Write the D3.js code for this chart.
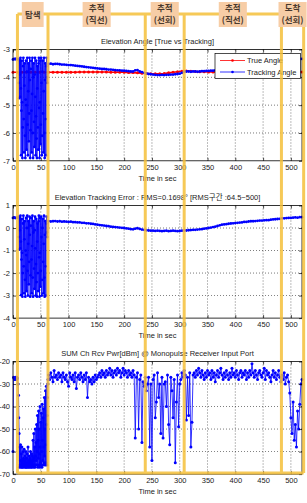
<!DOCTYPE html>
<html>
<head>
<meta charset="utf-8">
<script src="https://cdn.jsdelivr.net/npm/d3@7"></script>
<style>
  body { margin: 0; background: #fff; }
  text { font-family: "Liberation Sans", Arial, "Noto Sans CJK KR", sans-serif; }
</style>
</head>
<body>
<div id="chart"></div>
<script>
const width = 307, height = 503;

// shared time axis (sec)
const xDomain = [0, 520];
const xTicks = [0, 50, 100, 150, 200, 250, 300, 350, 400, 450, 500];

// phase boundaries (sec) and names of the yellow overlay
const phaseEdges = [8, 63, 238, 308, 483, 523];
const phaseNames = [["탐색"], ["추적", "(직선)"], ["추적", "(선회)"], ["추적", "(직선)"], ["도착", "(선회)"]];

// ---- panel 1 : elevation angle
const angleTicks = [-3, -4, -5, -6, -7];
const trueAngleStep = 8; // from t=0
const trueAngle = [-3.82, -3.82, -3.82, -3.82, -3.82, -3.82, -3.82, -3.82, -3.82, -3.82,
  -3.82, -3.82, -3.82, -3.82, -3.82, -3.81, -3.81, -3.81, -3.81, -3.81,
  -3.81, -3.81, -3.82, -3.82, -3.82, -3.82, -3.83, -3.83, -3.84, -3.85,
  -3.86, -3.87, -3.87, -3.87, -3.86, -3.84, -3.82, -3.80, -3.78, -3.77,
  -3.78, -3.79, -3.80, -3.80, -3.81, -3.81, -3.81, -3.81, -3.82, -3.82,
  -3.82, -3.82, -3.82, -3.82, -3.82, -3.82, -3.82, -3.82, -3.82, -3.82,
  -3.82, -3.82, -3.82, -3.81, -3.81, -3.81];

// tracking angle: before search (t=0, step 2), search (t=10, step 0.58), tracking (t=64, step 4)
const trackPre = [-3.36, -3.34, -3.35, -3.33, -3.35];
const trackSearch = [-3.35, -4.2, -4.75, -3.4, -3.9, -4.7, -3.3, -4.4,
  -6.8, -5.2, -3.4, -4.9, -6.9, -5.8, -3.6, -3.3, -5.5, -6.7,
  -4.3, -3.5, -6.1, -6.9, -4.8, -3.4, -5.0, -6.6, -3.8, -3.3,
  -5.7, -6.8, -4.5, -3.5, -6.3, -5.3, -3.3, -4.1, -6.9, -5.9,
  -3.7, -3.4, -5.2, -6.7, -4.6, -3.3, -6.0, -6.9, -4.0, -3.5,
  -5.6, -6.5, -3.9, -3.3, -4.7, -6.8, -5.4, -3.4, -6.2, -6.9,
  -4.4, -3.6, -5.8, -6.6, -3.5, -3.3, -5.1, -6.9, -4.9, -3.4,
  -6.4, -5.7, -3.3, -4.2, -6.8, -6.1, -3.8, -3.4, -5.3, -6.7,
  -4.5, -3.3, -6.0, -6.9, -4.1, -3.5, -5.5, -6.8, -3.6, -3.3,
  -4.0, -4.2];
const trackAngle = [-3.52, -3.51, -3.53, -3.52, -3.52, -3.53, -3.54, -3.54, -3.55, -3.56,
  -3.56, -3.57, -3.58, -3.59, -3.60, -3.61, -3.62, -3.63, -3.64, -3.65,
  -3.66, -3.67, -3.68, -3.69, -3.70, -3.70, -3.71, -3.72, -3.72, -3.73,
  -3.74, -3.75, -3.75, -3.76, -3.76, -3.77, -3.78, -3.79, -3.79, -3.75,
  -3.74, -3.79, -3.81, -3.84, -3.86, -3.88, -3.89, -3.90, -3.91, -3.92,
  -3.92, -3.91, -3.92, -3.91, -3.91, -3.90, -3.90, -3.89, -3.88, -3.87,
  -3.84, -3.80, -3.79, -3.79, -3.80, -3.79, -3.79, -3.80, -3.79, -3.78,
  -3.78, -3.77, -3.77, -3.76, -3.76, -3.75, -3.73, -3.70, -3.67, -3.65,
  -3.64, -3.62, -3.61, -3.60, -3.59, -3.58, -3.57, -3.56, -3.55, -3.54,
  -3.53, -3.52, -3.51, -3.51, -3.50, -3.49, -3.48, -3.48, -3.47, -3.46,
  -3.45, -3.44, -3.43, -3.42, -3.41, -3.40, -3.39, -3.38, -3.37, -3.37,
  -3.36, -3.35, -3.36, -3.34, -3.34];

// ---- panel 2 : tracking error
const errTicks = [1, 0, -1, -2, -3, -4];
const errPre = [0.45, 0.47, 0.44, 0.46, 0.45];
const errSearch = [0.5, -0.4, -0.95, 0.45, -0.1, -0.9, 0.55, -0.6,
  -2.98, -1.4, 0.4, -1.1, -3.05, -2.0, 0.2, 0.55, -1.7, -2.9,
  -0.5, 0.3, -2.3, -3.05, -1.0, 0.45, -1.2, -2.8, 0.0, 0.55,
  -1.9, -3.0, -0.7, 0.3, -2.5, -1.5, 0.5, -0.3, -3.05, -2.1,
  0.1, 0.45, -1.4, -2.9, -0.8, 0.55, -2.2, -3.05, -0.2, 0.3,
  -1.8, -2.7, -0.1, 0.5, -0.9, -3.0, -1.6, 0.4, -2.4, -3.05,
  -0.6, 0.2, -2.0, -2.8, 0.3, 0.55, -1.3, -3.05, -1.1, 0.45,
  -2.6, -1.9, 0.5, -0.4, -3.0, -2.3, 0.0, 0.4, -1.5, -2.9,
  -0.7, 0.55, -2.2, -3.05, -0.3, 0.3, -1.7, -3.0, 0.2, 0.5,
  -0.2, -0.4];
const errTrack = [0.31, 0.29, 0.30, 0.31, 0.29, 0.30, 0.28, 0.29, 0.28, 0.27,
  0.28, 0.26, 0.26, 0.25, 0.25, 0.23, 0.23, 0.21, 0.21, 0.19,
  0.18, 0.16, 0.15, 0.13, 0.12, 0.11, 0.09, 0.08, 0.06, 0.05,
  0.04, 0.03, 0.02, 0.01, 0.00, -0.02, -0.03, -0.05, -0.06, -0.03,
  -0.01, -0.04, -0.07, -0.08, -0.10, -0.11, -0.12, -0.12, -0.13, -0.12,
  -0.13, -0.14, -0.13, -0.12, -0.14, -0.13, -0.12, -0.13, -0.14, -0.13,
  -0.12, -0.11, -0.11, -0.10, -0.09, -0.08, -0.08, -0.07, -0.06, -0.05,
  -0.03, -0.02, 0.00, 0.02, 0.04, 0.06, 0.09, 0.12, 0.15, 0.16,
  0.17, 0.19, 0.20, 0.21, 0.22, 0.23, 0.24, 0.25, 0.27, 0.27,
  0.29, 0.30, 0.30, 0.31, 0.32, 0.33, 0.33, 0.34, 0.35, 0.35,
  0.37, 0.38, 0.39, 0.40, 0.41, 0.43, 0.43, 0.44, 0.45, 0.45,
  0.46, 0.47, 0.46, 0.48, 0.48];

// ---- panel 3 : received power (t=0 step 1, t=10 step 0.5, t=64 step 2)
const pwrTicks = [-20, -30, -40, -50, -60, -70];
const pwrPre = [-60, -27, -27.5, -28, -27, -27.5, -28, -27, -27.5, -30];
const pwrSearch = [-35, -45, -52, -67, -58,
  -66, -64, -57, -66, -67, -61, -65, -58, -67, -64, -66, -60, -67, -63, -66, -59,
  -66, -64, -67, -62, -65, -60, -67, -66, -63, -67, -61, -65, -66, -58, -67,
  -64, -66, -62, -67, -65, -63, -66, -60, -67, -64, -66, -61, -67, -65, -62,
  -66, -55, -64, -67, -52, -63, -66, -58, -67, -50, -62, -66, -56, -64,
  -48, -66, -60, -44, -67, -55, -63, -42, -66, -50, -61, -67, -40, -58, -65, -47,
  -66, -43, -60, -67, -39, -55, -64, -45, -66, -41, -58, -65,
  -36, -62, -50, -66, -33, -57, -65, -31, -48, -66, -44,
  -36, -30, -28];
const pwrTrack = [-26, -28, -25, -27, -29, -24, -27, -26, -28, -25, -27, -26, -29, -25, -27,
  -28, -26, -29, -31, -25, -27, -28, -26, -29, -25, -32, -27, -26, -28, -25,
  -27, -29, -26, -28, -25, -36, -27, -29, -28, -30, -27, -29, -26, -28, -27,
  -26, -25, -27, -24, -26, -25, -27, -24, -26, -25, -23, -26, -24, -27, -25,
  -24, -26, -23, -25, -24, -27, -25, -23, -26, -24, -25, -27, -24, -26, -25,
  -27, -24, -26, -54, -27, -25, -50, -28, -26, -56, -29, -31, -27, -33, -30,
  -27, -58, -30, -64, -28, -26, -45, -38, -25, -36, -30, -52, -27, -54, -30,
  -29, -40, -26, -48, -57, -27, -33, -45, -28, -65, -38, -26, -49, -30, -28,
  -25, -27, -24, -26, -46, -27, -44, -25, -58, -47, -26, -25, -27, -24, -26,
  -23, -25, -27, -24, -26, -28, -25, -27, -24, -26, -25, -28, -24, -27, -25,
  -29, -26, -24, -27, -25, -23, -26, -28, -25, -27, -24, -26, -28, -25, -27,
  -23, -26, -25, -27, -24, -26, -28, -25, -24, -27, -25, -26, -24, -28, -25,
  -27, -24, -26, -21, -25, -27, -24, -26, -28, -25, -24, -26, -27, -25, -23,
  -28, -24, -26, -25, -27, -29, -26, -24, -27, -25, -28, -26, -24, -27, -29,
  -26, -28, -25, -30, -27, -26, -29, -34, -45, -52, -38, -55, -48, -58, -42,
  -50, -39, -30, -28];

// turn a run of equally spaced samples into points
function seg(values, t0, dt) {
  return values.map((v, i) => [t0 + i * dt, v]);
}

const x = d3.scaleLinear().domain(xDomain).range([13, 302]);

const panels = [
  { top: 49.5, h: 111.3, ticks: angleTicks,
    title: "Elevation Angle [True vs Tracking]",
    series: [
      { pts: seg(trueAngle, 0, trueAngleStep), color: "#ff0000", lw: 1.6, r: 1.5 },
      { pts: [].concat(seg(trackPre, 0, 2), seg(trackSearch, 10, 0.58), seg(trackAngle, 64, 4)),
        color: "#0000ff", lw: 0.9, r: 1.4 }
    ] },
  { top: 205.5, h: 112.6, ticks: errTicks,
    title: "Elevation Tracking Error : RMS=0.1698° [RMS구간 :64.5~500]",
    series: [
      { pts: [].concat(seg(errPre, 0, 2), seg(errSearch, 10, 0.58), seg(errTrack, 64, 4)),
        color: "#0000ff", lw: 0.9, r: 1.4 }
    ] },
  { top: 361.5, h: 112.6, ticks: pwrTicks,
    title: "SUM Ch Rcv Pwr[dBm] @ Monopulse Receiver Input Port",
    series: [
      { pts: [].concat(seg(pwrPre, 0, 1), seg(pwrSearch, 10, 0.5), seg(pwrTrack, 64, 2)),
        color: "#0000ff", lw: 0.8, r: 1.5 }
    ] }
];

const svg = d3.select("#chart")
    .append("svg")
    .attr("width", width)
    .attr("height", height);

panels.forEach(function(p) {
  const y = d3.scaleLinear()
      .domain(d3.extent(p.ticks))
      .range([p.top + p.h, p.top]);
  const g = svg.append("g");
  const bottom = p.top + p.h;
  const left = x.range()[0], right = x.range()[1];

  // dotted grid
  g.selectAll(".gx")
    .data(xTicks.filter(d => d > 0))
    .join("line")
    .attr("x1", d => x(d)).attr("x2", d => x(d))
    .attr("y1", p.top).attr("y2", bottom)
    .attr("stroke", "#000").attr("stroke-width", 0.7)
    .attr("stroke-dasharray", "1,2").attr("opacity", 0.75);
  g.selectAll(".gy")
    .data(p.ticks.slice(1, -1))
    .join("line")
    .attr("x1", left).attr("x2", right)
    .attr("y1", d => y(d)).attr("y2", d => y(d))
    .attr("stroke", "#000").attr("stroke-width", 0.7)
    .attr("stroke-dasharray", "1,2").attr("opacity", 0.75);

  // series
  p.series.forEach(function(s) {
    const line = d3.line().x(d => x(d[0])).y(d => y(d[1]));
    g.append("path")
      .datum(s.pts)
      .attr("d", line)
      .attr("fill", "none")
      .attr("stroke", s.color)
      .attr("stroke-width", s.lw);
    g.append("g")
      .selectAll("circle")
      .data(s.pts)
      .join("circle")
      .attr("cx", d => x(d[0]))
      .attr("cy", d => y(d[1]))
      .attr("r", s.r)
      .attr("fill", s.color);
  });

  // box
  g.append("rect")
    .attr("x", left).attr("y", p.top)
    .attr("width", right - left).attr("height", p.h)
    .attr("fill", "none").attr("stroke", "#000").attr("stroke-width", 0.8);

  // ticks on all four sides, labels on bottom and left
  const xa = g.append("g").attr("transform", `translate(0,${bottom})`)
    .call(d3.axisBottom(x).tickValues(xTicks).tickFormat(d => d).tickSizeInner(-3).tickSizeOuter(0).tickPadding(4));
  const ya = g.append("g").attr("transform", `translate(${left},0)`)
    .call(d3.axisLeft(y).tickValues(p.ticks).tickFormat(d => d).tickSizeInner(-3).tickSizeOuter(0).tickPadding(3));
  const xt = g.append("g").attr("transform", `translate(0,${p.top})`)
    .call(d3.axisTop(x).tickValues(xTicks).tickFormat("").tickSizeInner(-3).tickSizeOuter(0));
  const yr = g.append("g").attr("transform", `translate(${right},0)`)
    .call(d3.axisRight(y).tickValues(p.ticks).tickFormat("").tickSizeInner(-3).tickSizeOuter(0));
  [xa, ya, xt, yr].forEach(function(a) {
    a.select(".domain").remove();
    a.selectAll("text").attr("font-size", "7.5px").attr("fill", "#222")
      .style("font-family", "Liberation Sans, Arial, sans-serif");
    a.selectAll("line").attr("stroke", "#000").attr("stroke-width", 0.7);
  });

  g.append("text")
    .attr("x", (left + right) / 2)
    .attr("y", p.top - 5.5)
    .attr("text-anchor", "middle")
    .attr("font-size", "7.5px")
    .attr("fill", "#222")
    .text(p.title);

  g.append("text")
    .attr("x", (left + right) / 2)
    .attr("y", bottom + 20)
    .attr("text-anchor", "middle")
    .attr("font-size", "7.5px")
    .attr("fill", "#222")
    .text("Time in sec");
});

// legend of panel 1
const legend = svg.append("g");
legend.append("rect")
  .attr("x", 215).attr("y", 53.5).attr("width", 85.5).attr("height", 25)
  .attr("fill", "#fff").attr("stroke", "#000").attr("stroke-width", 0.7);
[{ name: "True Angle", color: "#ff0000" }, { name: "Tracking Angle", color: "#0000ff" }].forEach(function(e, i) {
  const ly = 60.5 + i * 11.5;
  legend.append("line")
    .attr("x1", 220).attr("x2", 245).attr("y1", ly).attr("y2", ly)
    .attr("stroke", e.color).attr("stroke-width", 0.8);
  legend.append("circle").attr("cx", 232.5).attr("cy", ly).attr("r", 1.3).attr("fill", e.color);
  legend.append("text")
    .attr("x", 247).attr("y", ly + 2.6)
    .attr("font-size", "7.5px").attr("fill", "#222")
    .text(e.name);
});

// yellow phase frame drawn over the plots
const frameTop = 14, frameBottom = 473;
const frame = svg.append("g")
  .attr("stroke", "#f5c03a").attr("stroke-width", 3).attr("opacity", 0.85).attr("fill", "none");
frame.append("line")
  .attr("x1", x(phaseEdges[0])).attr("x2", x(phaseEdges[phaseEdges.length - 1]))
  .attr("y1", frameTop).attr("y2", frameTop);
frame.append("line")
  .attr("x1", x(phaseEdges[0])).attr("x2", x(phaseEdges[phaseEdges.length - 1]))
  .attr("y1", frameBottom).attr("y2", frameBottom);
frame.selectAll(".v")
  .data(phaseEdges)
  .join("line")
  .attr("x1", d => x(d)).attr("x2", d => x(d))
  .attr("y1", frameTop).attr("y2", frameBottom);

// phase name boxes
phaseNames.forEach(function(lines, i) {
  const cx = (x(phaseEdges[i]) + x(phaseEdges[i + 1])) / 2;
  const gb = svg.append("g");
  const rect = gb.append("rect").attr("fill", "#f7cda6");
  const t = gb.append("text")
    .attr("text-anchor", "middle")
    .attr("font-size", "8.5px")
    .attr("font-weight", "bold")
    .attr("fill", "#4a3a2e")
    .style("font-family", "Noto Sans CJK KR, sans-serif");
  lines.forEach(function(s, k) {
    t.append("tspan")
      .attr("x", cx)
      .attr("y", lines.length === 1 ? 17.8 : 11.3 + k * 11.8)
      .text(s);
  });
  const w = t.node().getBBox().width + 6;
  rect.attr("x", cx - w / 2).attr("y", 2).attr("width", w).attr("height", 25);
});
</script>
</body>
</html>
